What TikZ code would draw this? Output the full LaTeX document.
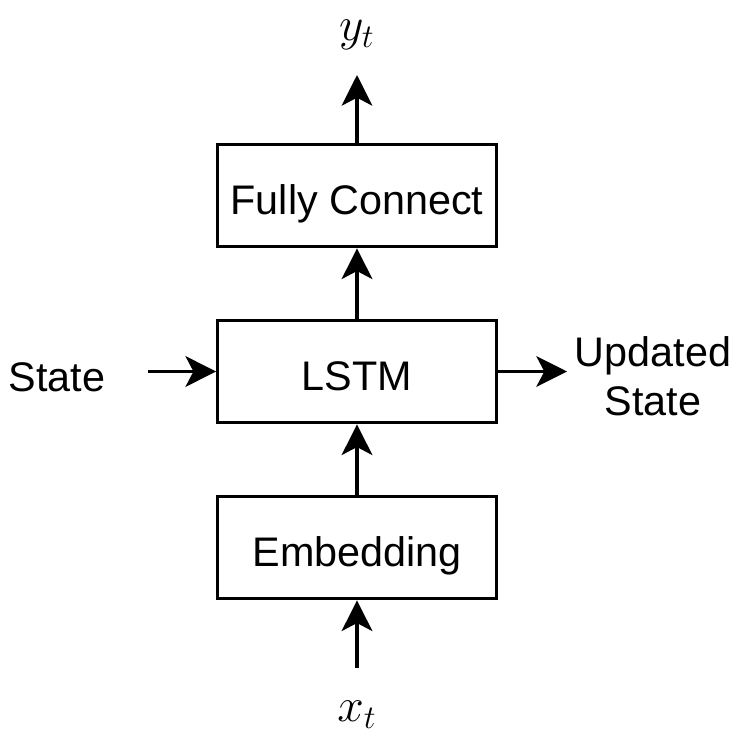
\documentclass[tikz,border=0pt]{standalone}
\usepackage{fontspec}
\setmainfont{Liberation Sans}
\usetikzlibrary{arrows.meta}
\begin{document}
\begin{tikzpicture}[
    x=0.75pt, y=-0.75pt,
    block/.style={rectangle, draw, line width=2.3pt, minimum width=209pt, minimum height=77pt, text height=29pt, text depth=0pt, font=\fontsize{31}{37}\selectfont},
    lbl/.style={font=\fontsize{31}{37}\selectfont, align=center},
    var/.style={font=\huge, scale=1.72},
    flow/.style={-{Stealth[length=23pt, width=23pt, inset=6pt]}, line width=2.3pt}
]
\useasboundingbox (0,0) rectangle (735,746);

% Blocks
\node[block] (fc) at (357,195.5)   {Fully Connect};
\node[block] (lstm) at (357,371.5) {LSTM};
\node[block] (emb) at (357,547.5)  {Embedding};

% Inputs and outputs
\node[var] (yt) at (357,35)   {$y_t$};
\node[var] (xt) at (357,715)  {$x_t$};
\node[lbl] (state) at (57,377) {State};
\node[lbl] (upd) at (653,376)  {Updated\\State};
\coordinate (ytin) at (357,75);
\coordinate (xtout) at (357,668);
\coordinate (stout) at (148,371.5);
\coordinate (updin) at (567,371.5);

% Arrows
\draw[flow] (xtout) -- (emb);
\draw[flow] (emb) -- (lstm);
\draw[flow] (lstm) -- (fc);
\draw[flow] (fc) -- (ytin);
\draw[flow] (stout) -- (lstm);
\draw[flow] (lstm) -- (updin);
\end{tikzpicture}
\end{document}
